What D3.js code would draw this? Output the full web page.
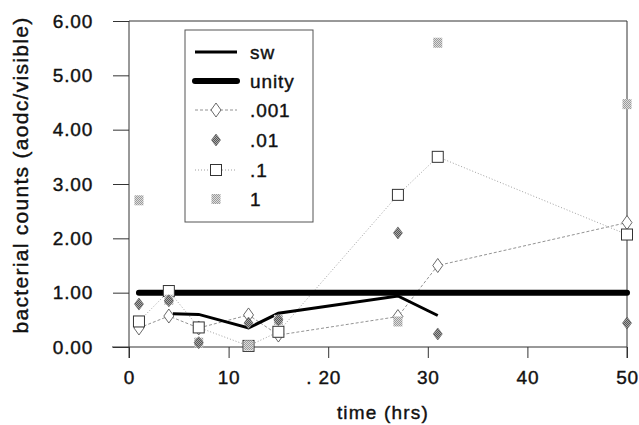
<!DOCTYPE html>
<html>
<head>
<meta charset="utf-8">
<script src="https://cdn.jsdelivr.net/npm/d3@7"></script>
<style>
  body { margin: 0; background: #fff; }
  svg text { font-family: "Liberation Sans", Arial, sans-serif; fill: #111; stroke: #111; stroke-width: 0.4px; }
</style>
</head>
<body>
<div id="chart"></div>
<script>
// sample times (hrs)
const times = [1, 4, 7, 12, 15, 27, 31, 50];
const swTimes = [4.4, 7, 12, 15, 27, 31];
const swVals = [0.61, 0.6, 0.35, 0.62, 0.94, 0.58];
const unityTimes = [1, 50];
const unityVals = [1, 1];
const ser001 = [0.35, 0.57, 0.35, 0.59, 0.22, 0.56, 1.5, 2.29];
const ser01 = [0.79, 0.85, 0.08, 0.44, 0.5, 2.1, 0.24, 0.44];
const ser1 = [0.47, 1.03, 0.36, 0.02, 0.28, 2.8, 3.5, 2.07];
const serOne = [2.7, 0.87, 0.08, 0.03, 0.5, 0.47, 5.6, 4.47];

const xTicks = [0, 10, 20, 30, 40, 50];
const xTickLabels = ['0', '10', '. 20', '30', '40', '50'];
const yTicks = [0, 1, 2, 3, 4, 5, 6];
const legendNames = ['sw', 'unity', '.001', '.01', '.1', '1'];

const W = 639, H = 425;
const svg = d3.select('#chart').append('svg').attr('width', W).attr('height', H);

// checkered fills for the gray markers
const defs = svg.append('defs');
function checker(id, c1, c2) {
  const p = defs.append('pattern').attr('id', id).attr('width', 2).attr('height', 2)
    .attr('patternUnits', 'userSpaceOnUse');
  p.append('rect').attr('width', 2).attr('height', 2).attr('fill', c2);
  p.append('rect').attr('width', 1).attr('height', 1).attr('fill', c1);
  p.append('rect').attr('x', 1).attr('y', 1).attr('width', 1).attr('height', 1).attr('fill', c1);
}
checker('chkLight', '#9a9a9a', '#dedede');
checker('chkDark', '#555', '#aaa');

const x = d3.scaleLinear().domain([0, 50]).range([129, 627]);
const y = d3.scaleLinear().domain([0, 6]).range([347, 21]);

// axes
const xAxis = svg.append('g').attr('transform', `translate(0,${y(0)})`)
  .call(d3.axisBottom(x).tickValues(xTicks).tickSize(11).tickPadding(13)
    .tickFormat((d, i) => xTickLabels[i]));
xAxis.select('.domain').attr('d', `M${x(0) - 17},0H${x(50)}`);
const yAxis = svg.append('g').attr('transform', `translate(${x(0)},0)`)
  .call(d3.axisLeft(y).tickValues(yTicks).tickSize(16).tickPadding(20)
    .tickFormat(d3.format('.2f')));
yAxis.select('.domain').attr('d', `M0,${y(6)}V${y(0) + 11}`);
svg.selectAll('.domain, .tick line').attr('stroke', '#333').attr('stroke-width', 1);
svg.selectAll('.tick text').style('font-size', '19px').attr('fill', '#111')
  .style('letter-spacing', '0.8px');
xAxis.selectAll('.tick text').filter((d) => d === 20).attr('dx', -5);

// frame top and right
svg.append('line').attr('x1', x(0)).attr('x2', x(50)).attr('y1', y(6)).attr('y2', y(6))
  .attr('stroke', '#333');
svg.append('line').attr('x1', x(50)).attr('x2', x(50)).attr('y1', y(6)).attr('y2', y(0) + 11)
  .attr('stroke', '#333');

// axis titles
svg.append('text').attr('transform', 'translate(28,175) rotate(-90)')
  .attr('text-anchor', 'middle').style('font-size', '21px').style('letter-spacing', '1.3px')
  .text('bacterial  counts  (aodc/visible)');
svg.append('text').attr('x', 383).attr('y', 419).attr('text-anchor', 'middle')
  .style('font-size', '19px').style('letter-spacing', '1.2px').text('time  (hrs)');

const line = d3.line().x((d) => x(d[0])).y((d) => y(d[1]));

// dotted series lines
svg.append('path').datum(times.map((t, i) => [t, ser001[i]])).attr('d', line)
  .attr('fill', 'none').attr('stroke', '#777').attr('stroke-width', 0.8).attr('stroke-dasharray', '3,2');
svg.append('path').datum(times.map((t, i) => [t, ser1[i]])).attr('d', line)
  .attr('fill', 'none').attr('stroke', '#888').attr('stroke-width', 0.8).attr('stroke-dasharray', '1,2');

// unity and sw
svg.append('path').datum(unityTimes.map((t, i) => [t, unityVals[i]])).attr('d', line)
  .attr('fill', 'none').attr('stroke', '#000').attr('stroke-width', 6).attr('stroke-linecap', 'round');
svg.append('path').datum(swTimes.map((t, i) => [t, swVals[i]])).attr('d', line)
  .attr('fill', 'none').attr('stroke', '#000').attr('stroke-width', 3);

// marker shapes
const diamond = (cx, cy, w, h) => `M${cx},${cy - h / 2}L${cx + w / 2},${cy}L${cx},${cy + h / 2}L${cx - w / 2},${cy}Z`;

function drawDiamonds(g, pts) {
  g.selectAll(null).data(pts).join('path')
    .attr('d', (d) => diamond(d[0], d[1], 10, 14))
    .attr('fill', '#fff').attr('stroke', '#444').attr('stroke-width', 0.8);
}
function drawSquares(g, pts) {
  g.selectAll(null).data(pts).join('rect')
    .attr('x', (d) => d[0] - 5.5).attr('y', (d) => d[1] - 5.5).attr('width', 11).attr('height', 11)
    .attr('fill', '#fff').attr('stroke', '#333').attr('stroke-width', 1);
}
function drawGraySquares(g, pts) {
  g.selectAll(null).data(pts).join('rect')
    .attr('x', (d) => d[0] - 4.5).attr('y', (d) => d[1] - 5).attr('width', 9).attr('height', 10)
    .attr('fill', 'url(#chkLight)');
}
function drawGrayDiamonds(g, pts) {
  g.selectAll(null).data(pts).join('path')
    .attr('d', (d) => diamond(d[0], d[1], 9, 12))
    .attr('fill', 'url(#chkDark)').attr('stroke', '#555').attr('stroke-width', 0.6);
}

const marks = svg.append('g');
drawDiamonds(marks.append('g'), times.map((t, i) => [x(t), y(ser001[i])]));
drawSquares(marks.append('g'), times.map((t, i) => [x(t), y(ser1[i])]));
drawGraySquares(marks.append('g'), times.map((t, i) => [x(t), y(serOne[i])]));
drawGrayDiamonds(marks.append('g'), times.map((t, i) => [x(t), y(ser01[i])]));

// legend
const leg = svg.append('g');
leg.append('rect').attr('x', 185).attr('y', 30).attr('width', 128).attr('height', 192)
  .attr('fill', '#fff').attr('stroke', '#555').attr('stroke-width', 1);
const rowY = [52, 81, 110, 140, 170, 199];
const lx1 = 195, lx2 = 237, lcx = 216;
leg.append('line').attr('x1', lx1).attr('x2', lx2).attr('y1', rowY[0]).attr('y2', rowY[0])
  .attr('stroke', '#000').attr('stroke-width', 3);
leg.append('line').attr('x1', lx1).attr('x2', lx2).attr('y1', rowY[1]).attr('y2', rowY[1])
  .attr('stroke', '#000').attr('stroke-width', 6).attr('stroke-linecap', 'round');
leg.append('line').attr('x1', lx1).attr('x2', lx2).attr('y1', rowY[2]).attr('y2', rowY[2])
  .attr('stroke', '#777').attr('stroke-width', 0.8).attr('stroke-dasharray', '3,2');
drawDiamonds(leg.append('g'), [[lcx, rowY[2]]]);
drawGrayDiamonds(leg.append('g'), [[lcx, rowY[3]]]);
leg.append('line').attr('x1', lx1).attr('x2', lx2).attr('y1', rowY[4]).attr('y2', rowY[4])
  .attr('stroke', '#888').attr('stroke-width', 0.8).attr('stroke-dasharray', '1,2');
drawSquares(leg.append('g'), [[lcx, rowY[4]]]);
drawGraySquares(leg.append('g'), [[lcx, rowY[5]]]);
leg.selectAll('text.lab').data(legendNames).join('text').attr('class', 'lab')
  .attr('x', 250).attr('y', (d, i) => rowY[i] + 7)
  .style('font-size', '19px').style('letter-spacing', '0.9px').text((d) => d);
</script>
</body>
</html>
